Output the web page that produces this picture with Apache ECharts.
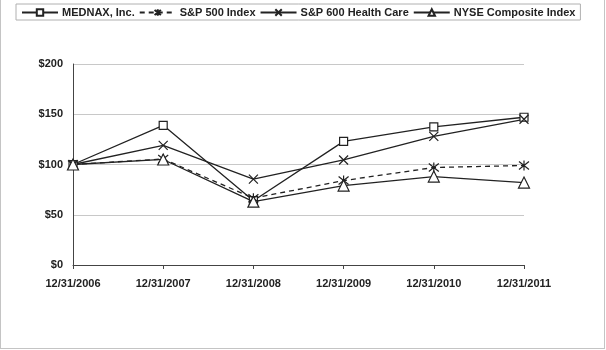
<!DOCTYPE html>
<html>
<head>
<meta charset="utf-8">
<script src="https://cdn.jsdelivr.net/npm/echarts@6/dist/echarts.min.js"></script>
<style>
    html, body { margin: 0; padding: 0; background: #fff; }
    #chart_div {
        width: 603px;
        height: 348px;
        border-left: 1px solid #c4c4c4;
        border-right: 1px solid #c4c4c4;
        border-bottom: 1px solid #c4c4c4;
    }
</style>
</head>
<body>
<div id="chart_div"></div>
<script>
    // 数据
    var categories = ['12/31/2006', '12/31/2007', '12/31/2008', '12/31/2009', '12/31/2010', '12/31/2011'];
    var mednax = [100, 139, 64, 123, 137.5, 147];
    var sp500 = [100, 105.5, 66.5, 84, 97, 99];
    var sp600hc = [100, 119, 85.5, 104.5, 128, 145];
    var nyse = [100, 105, 63, 79, 88, 82];
    var yTicks = [0, 50, 100, 150, 200];

    var ink = '#222';
    var asterisk = 'path://M0,-10L0,10M-8,-8L8,8M-8,8L8,-8';
    var cross = 'path://M-10,-10L10,10M-10,10L10,-10';
    var font = { fontFamily: 'Liberation Sans', fontWeight: 'bold', fontSize: 11, color: ink };

    function makeSeries(name, data, symbol, size, dashed) {
        return {
            name: name,
            type: 'line',
            data: data,
            symbol: symbol,
            symbolSize: size,
            showAllSymbol: true,
            lineStyle: { color: ink, width: 1.3, type: dashed ? [5, 4] : 'solid' },
            itemStyle: { color: '#fff', borderColor: ink, borderWidth: 1.2 },
            emphasis: { disabled: true },
            animation: false
        };
    }

    var myChart = echarts.init(document.getElementById('chart_div'));
    myChart.setOption({
        backgroundColor: '#fff',
        legend: {
            left: 15,
            top: 4,
            padding: [3, 5, 2, 5],
            borderColor: '#b0b0b0',
            borderWidth: 1,
            itemWidth: 36,
            itemHeight: 8,
            itemGap: 4,
            textStyle: Object.assign({ padding: [0, 0, 0, -1] }, font),
            data: ['MEDNAX, Inc.', 'S&P 500 Index', 'S&P 600 Health Care', 'NYSE Composite Index']
        },
        grid: { left: 72, right: 80, top: 64, bottom: 83, containLabel: false },
        xAxis: {
            type: 'category',
            data: categories,
            boundaryGap: false,
            axisLine: { lineStyle: { color: '#444', width: 1 } },
            axisTick: { show: true, length: 4, lineStyle: { color: '#444' } },
            axisLabel: Object.assign({ margin: 13 }, font),
            splitLine: { show: false }
        },
        yAxis: {
            type: 'value',
            min: yTicks[0],
            max: yTicks[yTicks.length - 1],
            interval: 50,
            axisLine: { show: true, lineStyle: { color: '#444', width: 1 } },
            axisTick: { show: false },
            axisLabel: Object.assign({
                margin: 10,
                formatter: function (v) { return '$' + v; }
            }, font),
            splitLine: { lineStyle: { color: '#c8c8c8', width: 1 } }
        },
        series: [
            makeSeries('MEDNAX, Inc.', mednax, 'rect', 8, false),
            makeSeries('S&P 500 Index', sp500, asterisk, 10, true),
            makeSeries('S&P 600 Health Care', sp600hc, cross, 9, false),
            makeSeries('NYSE Composite Index', nyse, 'triangle', 11, false)
        ]
    });
</script>
</body>
</html>
